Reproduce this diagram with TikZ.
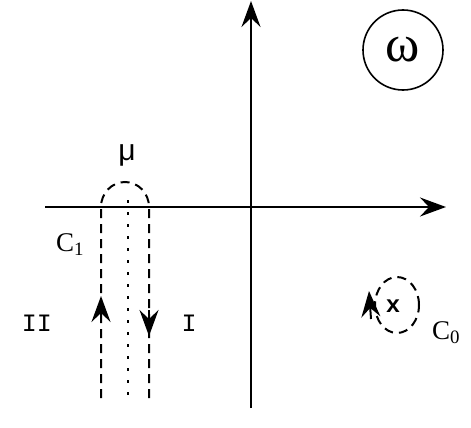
\documentclass[tikz,border=0pt]{standalone}
\usepackage{fontspec}
\setmainfont{Liberation Serif}
\setmonofont{Liberation Mono}
\newfontfamily\greeksans{Liberation Sans}
\usetikzlibrary{arrows.meta,shapes.geometric}

\begin{document}
\begin{tikzpicture}[
	x=1pt, y=-1pt,
	line width=2pt,
	axis/.style={-{Stealth[length=26pt,width=19pt,inset=9pt]}},
	contour/.style={dash pattern=on 9pt off 6pt},
	cut/.style={dash pattern=on 3pt off 9pt},
	sense/.style={-{Stealth[length=26pt,width=19pt,inset=9pt]}},
	lbl/.style={font=\fontsize{27}{30}\selectfont, inner sep=0pt},
	region/.style={font=\ttfamily\fontsize{25}{28}\selectfont, inner sep=0pt}
	]
	\useasboundingbox (0,0) rectangle (471,428);

	% axes
	\coordinate (xl) at (45,207);
	\coordinate (xr) at (446,207);
	\coordinate (yb) at (251,408);
	\coordinate (yt) at (251,1);
	\draw[axis] (xl) -- (xr);
	\draw[axis] (yb) -- (yt);

	% plane label
	\node[circle, draw, line width=1.6pt, minimum size=80pt, inner sep=0pt,
		font=\fontsize{52}{54}\selectfont] (omega) at (403,50) {ω};

	% contour C1 round the cut
	\coordinate (c1a) at (101,398);
	\coordinate (c1b) at (149,398);
	\draw[contour] (c1a) -- (101,207) arc[start angle=180, end angle=360, x radius=24, y radius=25] -- (c1b);
	\draw[cut] (128,200) -- (128,398);
	\draw[sense] (101,322) -- (101,296);
	\draw[sense] (149,310) -- (149,336);

	\node[font=\greeksans\fontsize{30}{32}\selectfont, inner sep=0pt] (mu) at (127,155) {μ};
	\node[lbl] (c1) at (70,245) {C\textsubscript{1}};
	\node[region] (two) at (37,323) {II};
	\node[region] (one) at (189,323) {I};

	% contour C0 round the pole
	\node[ellipse, draw, contour, minimum width=44pt, minimum height=56pt, inner sep=0pt] (pole) at (397,305) {};
	\node[font=\ttfamily\bfseries\fontsize{24}{26}\selectfont, inner sep=0pt] (x) at (393,306) {x};
	\draw[sense] (371,319) -- (369,291);
	\node[lbl] (c0) at (446,333) {C\textsubscript{0}};

\end{tikzpicture}
\end{document}
